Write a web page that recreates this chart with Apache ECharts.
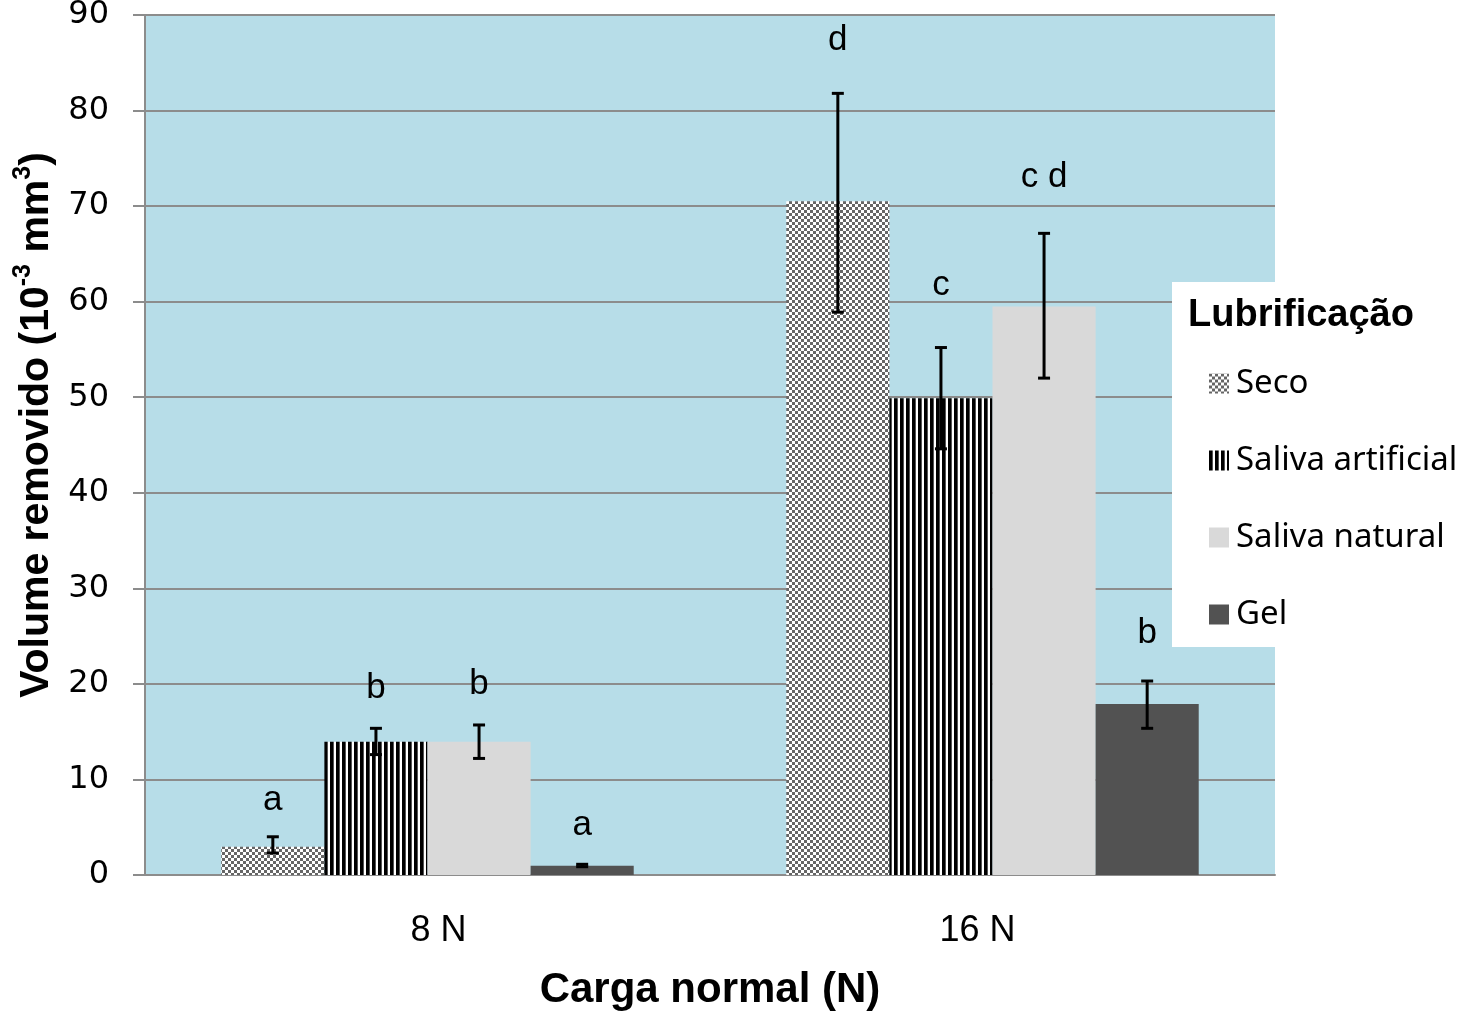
<!DOCTYPE html>
<html>
<head>
<meta charset="utf-8">
<script src="https://cdn.jsdelivr.net/npm/echarts@6/dist/echarts.min.js"></script>
<style>
html,body{margin:0;padding:0;background:#fff;}
#chart{width:1470px;height:1014px;}
</style>
</head>
<body>
<div id="chart"></div>
<script>
// ---- data ----
const categories = ['8 N', '16 N'];
const seriesNames = ['Seco', 'Saliva artificial', 'Saliva natural', 'Gel'];
const seco = [2.95, 70.5];
const salivaArtificial = [13.95, 49.9];
const salivaNatural = [13.95, 59.5];
const gel = [0.98, 17.9];
// error bar bounds
const secoLow = [2.3, 58.9], secoHigh = [4.0, 81.8];
const artLow = [12.6, 44.6], artHigh = [15.35, 55.2];
const natLow = [12.2, 52.0], natHigh = [15.7, 67.15];
const gelLow = [0.87, 15.35], gelHigh = [1.12, 20.3];
// significance letters and the height (data units) of their baseline box
const secoLetters = ['a', 'd'], secoLetterY = [5.96, 85.5];
const artLetters = ['b', 'c'], artLetterY = [17.7, 59.9];
const natLetters = ['b', 'c d'], natLetterY = [18.1, 71.2];
const gelLetters = ['a', 'b'], gelLetterY = [3.35, 23.5];
const yTicks = { min: 0, max: 90, interval: 10 };

// ---- patterns ----
function checkerPattern() {
  const c = document.createElement('canvas');
  c.width = 6; c.height = 6;
  const g = c.getContext('2d');
  g.fillStyle = '#ffffff'; g.fillRect(0, 0, 6, 6);
  g.fillStyle = '#666666';
  g.fillRect(0, 0, 3, 3); g.fillRect(3, 3, 3, 3);
  return { image: c, repeat: 'repeat' };
}
function stripePattern() {
  const c = document.createElement('canvas');
  c.width = 6; c.height = 6;
  const g = c.getContext('2d');
  g.fillStyle = '#ffffff'; g.fillRect(0, 0, 6, 6);
  g.fillStyle = '#000000'; g.fillRect(0, 0, 3, 6);
  g.fillStyle = '#555555'; g.fillRect(3, 0, 1, 6);
  return { image: c, repeat: 'repeat' };
}

const values = [seco, salivaArtificial, salivaNatural, gel];
const lows = [secoLow, artLow, natLow, gelLow];
const highs = [secoHigh, artHigh, natHigh, gelHigh];
const letters = [secoLetters, artLetters, natLetters, gelLetters];
const letterYs = [secoLetterY, artLetterY, natLetterY, gelLetterY];
const colors = [checkerPattern(), stripePattern(), '#d9d9d9', '#525252'];
const CAT_GAP = 0.27;

const barSeries = seriesNames.map((n, i) => ({
  name: n,
  type: 'bar',
  data: values[i],
  barGap: '0%',
  barCategoryGap: (CAT_GAP * 100) + '%',
  itemStyle: { color: colors[i] },
  z: 2
}));

const errSeries = seriesNames.map((n, i) => ({
  name: n + ' err',
  type: 'custom',
  z: 6,
  data: categories.map((c, k) => [k, lows[i][k], highs[i][k], letterYs[i][k]]),
  renderItem: function (params, api) {
    const k = api.value(0);
    const band = api.size([1, 0])[0];
    const bw = band * (1 - CAT_GAP) / 4;
    const cx = api.coord([k, 0])[0] + (i - 1.5) * bw;
    const yl = api.coord([k, api.value(1)])[1];
    const yh = api.coord([k, api.value(2)])[1];
    const yt = api.coord([k, api.value(3)])[1];
    const cap = 6;
    const st = { stroke: '#000', lineWidth: 3 };
    return {
      type: 'group',
      children: [
        { type: 'line', shape: { x1: cx, y1: yl, x2: cx, y2: yh }, style: st },
        { type: 'line', shape: { x1: cx - cap, y1: yh, x2: cx + cap, y2: yh }, style: st },
        { type: 'line', shape: { x1: cx - cap, y1: yl, x2: cx + cap, y2: yl }, style: st },
        { type: 'text', x: cx, y: yt, style: {
            text: letters[i][params.dataIndex], fill: '#000',
            font: '35px "Liberation Sans", Arial, sans-serif',
            align: 'center', verticalAlign: 'bottom' } }
      ]
    };
  }
}));

const labelFont = { fontFamily: '"Liberation Sans", Arial, sans-serif', fontSize: 36, color: '#000' };

const chart = echarts.init(document.getElementById('chart'), null, { renderer: 'canvas' });
chart.setOption({
  animation: false,
  backgroundColor: '#ffffff',
  grid: {
    left: 145, right: 195, top: 15, bottom: 139,
    containLabel: false, outerBoundsMode: 'none',
    show: true, backgroundColor: '#b7dde8', borderWidth: 0
  },
  legend: {
    data: seriesNames,
    orient: 'vertical',
    left: 1204, top: 362,
    itemWidth: 20, itemHeight: 20, itemGap: 44,
    icon: 'rect',
    z: 8,
    textStyle: { fontFamily: '"Noto Sans", sans-serif', fontSize: 33, color: '#000', padding: [0, 0, 0, 2] },
    selectedMode: false
  },
  graphic: [
    { type: 'rect', shape: { x: 1172, y: 282, width: 298, height: 365 }, style: { fill: '#ffffff' }, z: 7 },
    { type: 'text', x: 1188, y: 316, z: 9, style: {
        text: 'Lubrificação', fill: '#000',
        font: 'bold 38px "Liberation Sans", Arial, sans-serif',
        verticalAlign: 'middle' } }
  ],
  xAxis: {
    type: 'category',
    data: categories,
    axisLine: { show: true, lineStyle: { color: '#8c8c8c', width: 2 } },
    axisTick: { show: false },
    axisLabel: {
      margin: 38,
      formatter: function (v, idx) { return '{l' + idx + '|' + v + '}'; },
      rich: {
        l0: Object.assign({ padding: [0, 0, 0, 22] }, labelFont),
        l1: Object.assign({ padding: [0, 30, 0, 0] }, labelFont)
      }
    },
    name: 'Carga normal (N)',
    nameLocation: 'middle',
    nameGap: 94,
    nameTextStyle: { fontFamily: '"Liberation Sans", Arial, sans-serif', fontWeight: 'bold', fontSize: 42, color: '#000' }
  },
  yAxis: {
    type: 'value',
    min: yTicks.min, max: yTicks.max, interval: yTicks.interval,
    axisLine: { show: true, lineStyle: { color: '#8c8c8c', width: 2 } },
    axisTick: { show: true, inside: false, length: 12, lineStyle: { color: '#8c8c8c', width: 2 } },
    splitLine: { show: true, lineStyle: { color: '#8c8c8c', width: 2 } },
    axisLabel: { margin: 36, fontFamily: '"DejaVu Sans", sans-serif', fontSize: 32, color: '#000' },
    name: '{a|Volume removido (10}{s|-3}{a| mm}{s|3}{a|)}',
    nameLocation: 'middle',
    nameGap: 88,
    nameTextStyle: {
      padding: [0, 0, 0, 40],
      rich: {
        a: { fontFamily: '"Liberation Sans", Arial, sans-serif', fontWeight: 'bold', fontSize: 41, color: '#000', verticalAlign: 'bottom', lineHeight: 46 },
        s: { fontFamily: '"Liberation Sans", Arial, sans-serif', fontWeight: 'bold', fontSize: 25, color: '#000', verticalAlign: 'top', lineHeight: 46 }
      }
    }
  },
  series: barSeries.concat(errSeries)
});
</script>
</body>
</html>
